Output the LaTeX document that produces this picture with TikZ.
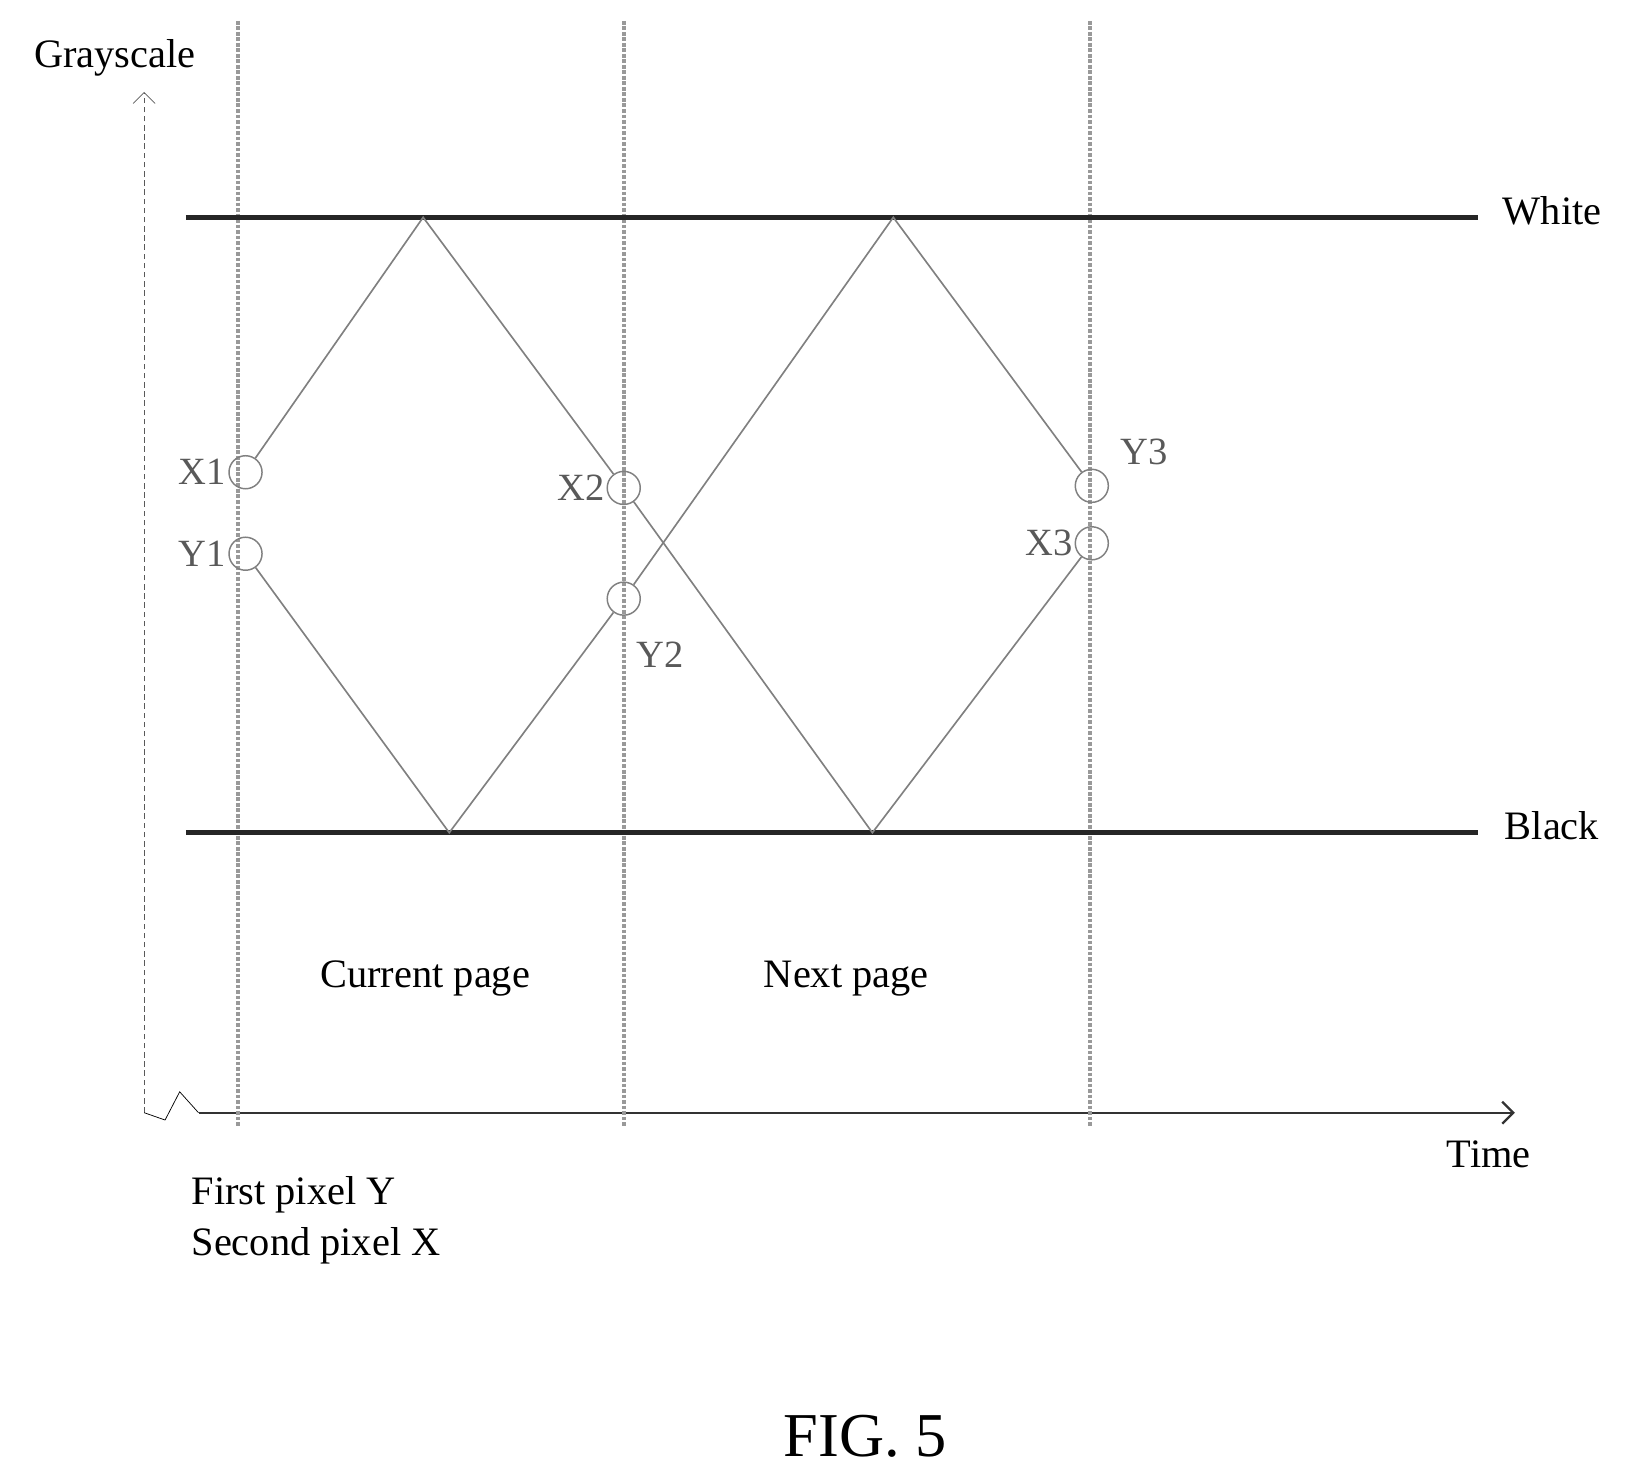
\documentclass[tikz,border=0pt]{standalone}
\usepackage{fontspec}
\setmainfont{Liberation Serif}
\usetikzlibrary{arrows.meta,positioning}
\begin{document}
\begin{tikzpicture}[x=0.02cm,y=-0.02cm,
    txt/.style={font=\fontsize{22}{26}\selectfont,inner sep=0pt},
    lbl/.style={font=\fontsize{21}{24}\selectfont,text=gray!70!black,inner sep=1pt},
    pt/.style={circle,draw=gray,thick,minimum size=18pt,inner sep=0pt},
    level/.style={line width=2.6pt,black!85},
    trace/.style={gray,line width=0.9pt},
    guide/.style={gray!80,densely dotted,line width=2pt}]
  \useasboundingbox (0,0) rectangle (1563,1409);
  % axes
  \draw[gray!70!black,densely dashed,thin,-{Straight Barb[length=6pt]}] (138,1065) -- (138,88);
  \draw[black!80,line width=1.3pt,-{Straight Barb[length=6pt]}] (190,1065) -- (1450,1065);
  \draw[thin] (138,1065) -- (158,1072) -- (172,1045) -- (190,1065);
  \node[txt] (gray) at (110,55) {Grayscale};
  \node[txt] (time) at (1425,1105) {Time};
  % guides
  \foreach \x in {228,597,1043}
    \draw[guide] (\x,20) -- (\x,1078);
  % levels
  \draw[level] (178,208) -- (1415,208);
  \draw[level] (178,797) -- (1415,797);
  \node[txt,anchor=west] (white) at (1438,202) {White};
  \node[txt,anchor=west] (black) at (1440,790) {Black};
  % sample points
  \node[pt] (x1) at (235,452) {};
  \node[pt] (y1) at (235,530) {};
  \node[pt] (x2) at (597,467) {};
  \node[pt] (y2) at (597,573) {};
  \node[pt] (y3) at (1045,465) {};
  \node[pt] (x3) at (1045,520) {};
  \node[lbl,left=0pt of x1] {X1};
  \node[lbl,left=0pt of y1] {Y1};
  \node[lbl,left=0pt of x2] {X2};
  \node[lbl] at (632,627) {Y2};
  \node[lbl] at (1095,433) {Y3};
  \node[lbl,left=0pt of x3] {X3};
  % traces
  \coordinate (xa) at (405,208);
  \coordinate (xb) at (835,797);
  \coordinate (ya) at (430,797);
  \coordinate (yb) at (855,208);
  \draw[trace] (x1) -- (xa) -- (x2) -- (xb) -- (x3);
  \draw[trace] (y1) -- (ya) -- (y2) -- (yb) -- (y3);
  % texts
  \node[txt] (cur) at (407,937) {Current page};
  \node[txt] (nxt) at (810,937) {Next page};
  \node[txt,anchor=west,align=left] (leg) at (183,1168) {First pixel Y\\[2pt]Second pixel X};
  \node[font=\fontsize{34}{40}\selectfont] (fig) at (828,1375) {FIG. 5};
\end{tikzpicture}
\end{document}
